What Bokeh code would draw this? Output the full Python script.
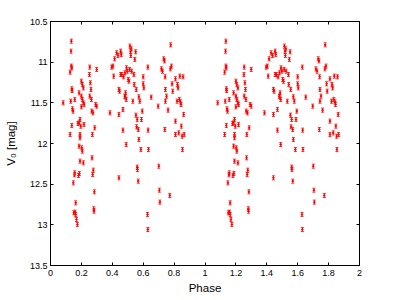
from bokeh.plotting import figure
from bokeh.models import Range1d, FixedTicker, LinearAxis, ColumnDataSource
from bokeh.embed import file_html
from bokeh.resources import INLINE

phase = [
    0.082, 0.135, 0.133, 0.135, 0.138, 0.127, 0.138, 0.140, 0.131, 0.142,
    0.146, 0.157, 0.138, 0.127, 0.151, 0.159, 0.163, 0.168, 0.174, 0.163,
    0.157, 0.155, 0.148, 0.181, 0.187, 0.191, 0.213, 0.185, 0.200, 0.206,
    0.213, 0.200, 0.206, 0.213, 0.217, 0.200, 0.185, 0.178, 0.196, 0.191,
    0.191, 0.185, 0.202, 0.206, 0.217, 0.191, 0.254, 0.252, 0.258, 0.262,
    0.254, 0.265, 0.267, 0.275, 0.286, 0.271, 0.299, 0.292, 0.299, 0.269,
    0.277, 0.273, 0.284, 0.280, 0.282,
    0.385, 0.396, 0.404, 0.409, 0.415, 0.428, 0.437, 0.443, 0.447, 0.443,
    0.454, 0.458, 0.454, 0.462, 0.469, 0.473, 0.482, 0.469, 0.482, 0.486,
    0.490, 0.482, 0.490, 0.443, 0.492, 0.497, 0.503, 0.508, 0.514, 0.518,
    0.520, 0.523, 0.512, 0.525, 0.533, 0.540, 0.542, 0.546, 0.551, 0.555,
    0.553, 0.561, 0.557, 0.568, 0.561, 0.563, 0.572, 0.572, 0.578, 0.585,
    0.568, 0.594, 0.589, 0.600, 0.604, 0.600, 0.630, 0.632, 0.634, 0.628,
    0.630, 0.652,
    0.697, 0.701, 0.705, 0.708, 0.718, 0.725, 0.733, 0.738, 0.740, 0.742,
    0.744, 0.744, 0.751, 0.761, 0.772, 0.778, 0.776, 0.783, 0.787, 0.791,
    0.809, 0.809, 0.809, 0.822, 0.826, 0.819, 0.837, 0.834, 0.841, 0.845,
    0.847, 0.852, 0.854, 0.858, 0.862, 0.865, 0.830,
]
mag = [
    11.500, 10.742, 10.865, 11.049, 11.070, 11.123, 11.328, 11.348, 11.480, 11.574,
    11.602, 11.459, 11.779, 11.889, 12.852, 12.844, 12.873, 12.934, 12.996, 12.730,
    12.361, 12.385, 12.484, 12.393, 12.369, 12.217, 12.238, 11.377, 11.234, 11.275,
    11.316, 11.418, 11.459, 11.500, 11.520, 11.549, 11.746, 11.754, 11.787, 11.889,
    11.930, 12.033, 12.053, 12.094, 11.766, 11.705, 11.061, 11.152, 11.254, 11.336,
    11.418, 11.459, 11.602, 11.623, 11.807, 11.889, 11.090, 11.520, 11.541, 12.176,
    12.328, 12.381, 12.594, 12.803, 12.832,
    11.623, 11.061, 11.049, 11.172, 10.959, 10.885, 10.918, 11.336, 11.357, 11.643,
    10.865, 10.906, 11.152, 11.152, 11.582, 11.180, 11.131, 11.836, 11.426, 11.377,
    11.459, 11.418, 12.012, 12.422, 11.070, 11.111, 11.213, 11.234, 10.803, 10.865,
    10.918, 10.836, 11.090, 11.111, 11.480, 11.152, 11.275, 10.967, 10.873, 11.336,
    11.652, 11.705, 11.795, 11.828, 12.291, 12.320, 11.426, 11.951, 11.480, 12.074,
    12.463, 11.602, 11.705, 11.266, 11.316, 11.180, 11.061, 11.836, 12.074, 12.873,
    13.057, 11.430,
    11.541, 12.279, 12.574, 12.721, 11.082, 11.111, 10.959, 10.984, 11.828, 11.180,
    11.336, 11.480, 11.418, 11.590, 12.639, 10.787, 11.082, 11.049, 11.266, 11.357,
    11.725, 11.889, 11.205, 11.275, 11.316, 11.480, 11.172, 11.459, 11.488, 11.520,
    11.787, 11.910, 12.074, 11.180, 11.643, 11.889, 11.869,
]
mag_err = [0.025] * len(mag)

x_ticks = [0, 0.2, 0.4, 0.6, 0.8, 1, 1.2, 1.4, 1.6, 1.8, 2]
x_labels = ["0", "0.2", "0.4", "0.6", "0.8", "1", "1.2", "1.4", "1.6", "1.8", "2"]
y_ticks = [10.5, 11, 11.5, 12, 12.5, 13, 13.5]
y_labels = ["10.5", "11", "11.5", "12", "12.5", "13", "13.5"]

# two cycles of the phased light curve
xs = phase + [p + 1 for p in phase]
ys = mag + mag
es = mag_err + mag_err
src = ColumnDataSource(dict(
    x=xs, y=ys,
    lo=[m - e for m, e in zip(ys, es)],
    hi=[m + e for m, e in zip(ys, es)],
))

FONT = "Liberation Sans"

p = figure(frame_width=309, frame_height=244,
           x_range=Range1d(0, 2), y_range=Range1d(13.5, 10.5),
           output_backend="svg", toolbar_location=None,
           min_border_left=50, min_border_right=28, min_border_top=21, min_border_bottom=10)
p.grid.visible = False
p.outline_line_color = "black"
p.background_fill_color = "white"
p.border_fill_color = "white"

red = "#ff0000"
p.segment(x0="x", y0="lo", x1="x", y1="hi", source=src, line_color=red, line_width=0.9)
p.scatter(x="x", y="lo", source=src, marker="dash", size=3, line_color=red, line_width=0.8)
p.scatter(x="x", y="hi", source=src, marker="dash", size=3, line_color=red, line_width=0.8)
p.scatter(x="x", y="y", source=src, marker="circle", size=1.6, line_color=red, fill_color=red)

def style(ax, labels=True):
    ax.major_tick_in = 3
    ax.major_tick_out = 0
    ax.minor_tick_in = 0
    ax.minor_tick_out = 0
    ax.axis_line_color = "black"
    ax.major_tick_line_color = "black"
    ax.major_label_text_font = FONT
    ax.major_label_text_font_size = "9px"
    ax.major_label_text_color = "black"
    ax.axis_label_text_font = FONT
    ax.axis_label_text_font_size = "11.5px"
    ax.axis_label_text_font_style = "normal"
    ax.axis_label_text_color = "black"
    if not labels:
        ax.major_label_text_font_size = "1px"
        ax.major_label_text_color = None
        ax.major_label_standoff = 0

xa = p.xaxis[0]
xa.ticker = FixedTicker(ticks=x_ticks)
xa.major_label_overrides = dict(zip(x_ticks, x_labels))
xa.axis_label = "Phase"
xa.major_label_standoff = 4
xa.axis_label_standoff = 3
style(xa)

ya = p.yaxis[0]
ya.ticker = FixedTicker(ticks=y_ticks)
ya.major_label_overrides = dict(zip(y_ticks, y_labels))
ya.axis_label = "V\u2080 [mag]"
ya.major_label_standoff = 3
ya.axis_label_standoff = 10
style(ya)

top = LinearAxis(ticker=FixedTicker(ticks=x_ticks))
style(top, labels=False)
p.add_layout(top, "above")
right = LinearAxis(ticker=FixedTicker(ticks=y_ticks))
style(right, labels=False)
p.add_layout(right, "right")

open("out.html", "w").write(file_html(p, INLINE))
